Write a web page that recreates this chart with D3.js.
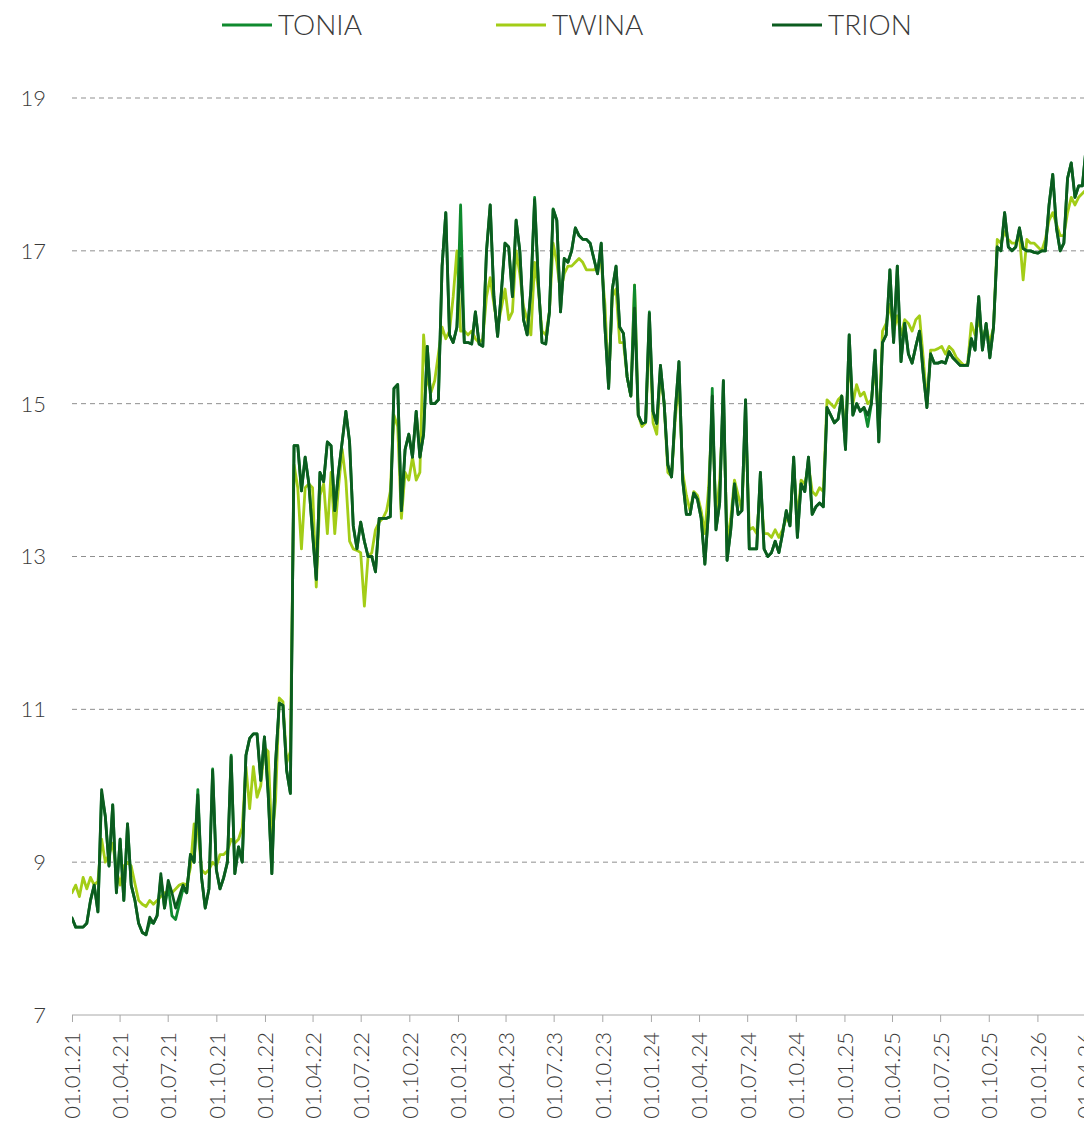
<!DOCTYPE html>
<html>
<head>
<meta charset="utf-8">
<script src="https://cdn.jsdelivr.net/npm/d3@7"></script>
<style>
  body { margin: 0; background: #fff; }
  svg text { font-family: "Lato Light", Lato, "Open Sans", sans-serif; font-weight: 300; fill: #3a3a3a; }
</style>
</head>
<body>
<svg id="chart" width="1084" height="1122"></svg>
<script>
// Weekly observations starting 01.01.2021
const startDate = "2021-01-01";
const stepDays = 7;

const seriesNames = ["TONIA", "TWINA", "TRION"];

const tonia = [
  8.27, 8.15, 8.15, 8.15, 8.2, 8.5, 8.7, 8.35, 9.9, 9.6, 8.95, 9.75, 8.6,
  9.3, 8.5, 9.5, 8.7, 8.5, 8.2, 8.08, 8.05, 8.22, 8.2, 8.3, 8.8, 8.4,
  8.7, 8.3, 8.25, 8.45, 8.65, 8.6, 9.1, 9.0, 9.95, 8.8, 8.4, 8.65, 10.22,
  8.9, 8.65, 8.8, 9.0, 10.4, 8.85, 9.2, 9.0, 10.4, 10.62, 10.68, 10.68, 10.07,
  10.64, 9.9, 8.85, 10.3, 11.08, 11.05, 10.2, 9.9, 14.45, 14.45, 13.86, 14.3, 13.95,
  13.3, 12.7, 14.1, 13.98, 14.5, 14.45, 13.6, 14.1, 14.5, 14.9, 14.5, 13.4, 13.1,
  13.45, 13.2, 13.0, 13.0, 12.8, 13.5, 13.5, 13.5, 13.52, 15.2, 15.25, 13.6, 14.4,
  14.6, 14.3, 14.9, 14.3, 14.6, 15.75, 15.0, 15.0, 15.05, 16.8, 17.5, 15.9, 15.8,
  16.0, 17.6, 15.8, 15.8, 15.78, 16.2, 15.78, 15.75, 17.0, 17.6, 16.4, 15.88, 16.45,
  17.1, 17.05, 16.4, 17.4, 17.0, 16.1, 15.9, 16.5, 17.7, 16.6, 15.8, 15.78, 16.2,
  17.55, 17.4, 16.2, 16.9, 16.85, 17.0, 17.3, 17.2, 17.15, 17.15, 17.1, 16.9, 16.7,
  17.1, 16.0, 15.2, 16.5, 16.8, 16.0, 15.92, 15.35, 15.1, 16.55, 14.85, 14.74, 14.76,
  16.2, 14.9, 14.74, 15.5, 15.0, 14.2, 14.04, 14.9, 15.55, 14.0, 13.55, 13.55, 13.83,
  13.75, 13.5, 12.9, 13.6, 15.2, 13.35, 13.7, 15.3, 12.95, 13.35, 13.95, 13.55, 13.6,
  15.05, 13.1, 13.1, 13.1, 14.1, 13.1, 13.0, 13.05, 13.2, 13.05, 13.3, 13.6, 13.4,
  14.3, 13.25, 13.95, 13.85, 14.3, 13.55, 13.65, 13.7, 13.65, 14.95, 14.85, 14.75, 14.8,
  15.1, 14.4, 15.9, 14.85, 15.0, 14.9, 14.95, 14.7, 15.0, 15.7, 14.5, 15.8, 15.9,
  16.75, 15.8, 16.8, 15.55, 16.05, 15.65, 15.53, 15.75, 15.95, 15.4, 14.95, 15.65, 15.53,
  15.53, 15.55, 15.53, 15.68, 15.6, 15.55, 15.5, 15.5, 15.5, 15.85, 15.7, 16.4, 15.7,
  16.05, 15.6, 16.0, 17.05, 17.0, 17.5, 17.05, 17.0, 17.05, 17.3, 17.03, 17.0, 17.0,
  16.98, 16.97, 17.0, 17.0, 17.6, 18.0, 17.3, 17.0, 17.1, 17.95, 18.15, 17.7, 17.85,
  17.85, 18.35
];

const twina = [
  8.6, 8.7, 8.55, 8.8, 8.65, 8.8, 8.7, 8.75, 9.3, 9.0, 9.1, 9.25, 8.9,
  8.7, 8.95, 9.0, 8.95, 8.72, 8.5, 8.45, 8.42, 8.5, 8.45, 8.5, 8.55, 8.6,
  8.6, 8.6, 8.65, 8.7, 8.72, 8.7, 8.93, 9.5, 9.45, 8.9, 8.85, 8.9, 9.0,
  8.95, 9.1, 9.1, 9.15, 9.3, 9.25, 9.3, 9.45, 10.25, 9.7, 10.25, 9.85, 10.0,
  10.5, 10.45, 9.3, 9.8, 11.15, 11.1, 10.3, 10.45, 14.2, 13.9, 13.1, 13.9, 13.95,
  13.9, 12.6, 13.8, 13.95, 13.3, 14.1, 13.3, 13.9, 14.4, 14.0, 13.2, 13.1, 13.08,
  13.05, 12.35, 13.0, 13.05, 13.35, 13.45, 13.5, 13.6, 13.85, 14.85, 14.7, 13.5, 14.1,
  14.0, 14.3, 14.0, 14.1, 15.9, 15.3, 15.15, 15.3, 15.65, 16.0, 15.85, 15.95, 16.4,
  17.0, 15.95, 15.95, 15.9, 15.95, 15.85, 15.8, 15.85, 16.4, 16.65, 16.3, 16.0, 16.25,
  16.5, 16.1, 16.2, 17.0, 16.7, 16.27, 16.1, 15.9, 16.85, 16.5, 15.95, 15.9, 16.2,
  17.1, 16.85, 16.45, 16.7, 16.8, 16.8, 16.85, 16.9, 16.85, 16.75, 16.75, 16.75, 16.8,
  16.85, 16.3, 15.25, 16.4, 16.5, 15.8, 15.8, 15.35, 15.1, 16.55, 14.85, 14.7, 14.75,
  16.0, 14.75, 14.6, 15.4, 15.0, 14.1, 14.05, 14.8, 15.3, 14.1, 13.8, 13.6, 13.85,
  13.8, 13.6, 13.3, 13.9, 14.9, 13.5, 14.0, 15.0, 13.2, 13.5, 14.0, 13.8, 13.6,
  14.8, 13.35, 13.38, 13.3, 13.9, 13.3, 13.3, 13.25, 13.35, 13.25, 13.35, 13.5, 13.45,
  14.2, 13.5, 14.0, 13.95, 14.2, 13.85, 13.8, 13.9, 13.85, 15.05, 15.0, 14.95, 15.05,
  15.1, 14.6, 15.6, 15.0, 15.25, 15.1, 15.15, 15.0, 15.05, 15.5, 14.7, 15.95, 16.05,
  16.3, 15.95, 16.15, 15.9, 16.1, 16.05, 15.95, 16.1, 16.15, 15.6, 15.0, 15.7, 15.7,
  15.72, 15.75, 15.65, 15.75, 15.7, 15.6, 15.55, 15.5, 15.52, 16.05, 15.9, 16.1, 15.85,
  16.0, 15.8, 16.0, 17.15, 17.1, 17.25, 17.15, 17.1, 17.1, 17.2, 16.62, 17.15, 17.1,
  17.1, 17.05, 17.0, 17.15, 17.4, 17.5, 17.35, 17.2, 17.2, 17.5, 17.7, 17.6, 17.7,
  17.75, 17.8
];

const trion = [
  8.27, 8.15, 8.15, 8.15, 8.2, 8.5, 8.7, 8.35, 9.95, 9.6, 8.95, 9.75, 8.6,
  9.3, 8.5, 9.5, 8.7, 8.5, 8.2, 8.08, 8.05, 8.28, 8.2, 8.3, 8.85, 8.4,
  8.76, 8.6, 8.4, 8.55, 8.7, 8.6, 9.1, 9.0, 9.88, 8.8, 8.4, 8.65, 10.2,
  8.9, 8.65, 8.8, 9.0, 10.38, 8.85, 9.2, 9.0, 10.4, 10.62, 10.68, 10.68, 10.07,
  10.64, 9.9, 8.85, 10.3, 11.08, 11.05, 10.2, 9.9, 14.45, 14.45, 13.86, 14.3, 13.95,
  13.3, 12.7, 14.1, 13.98, 14.5, 14.45, 13.6, 14.1, 14.5, 14.9, 14.5, 13.4, 13.1,
  13.45, 13.2, 13.0, 13.0, 12.8, 13.5, 13.5, 13.5, 13.52, 15.2, 15.25, 13.6, 14.4,
  14.6, 14.3, 14.9, 14.3, 14.6, 15.75, 15.0, 15.0, 15.05, 16.8, 17.5, 15.9, 15.8,
  16.0, 16.9, 15.8, 15.8, 15.78, 16.2, 15.78, 15.75, 17.0, 17.6, 16.4, 15.88, 16.45,
  17.1, 17.05, 16.4, 17.4, 17.0, 16.1, 15.9, 16.5, 17.67, 16.6, 15.8, 15.78, 16.2,
  17.54, 17.4, 16.2, 16.9, 16.85, 17.0, 17.3, 17.2, 17.15, 17.15, 17.1, 16.9, 16.7,
  17.1, 16.0, 15.2, 16.5, 16.8, 16.0, 15.92, 15.35, 15.1, 16.25, 14.85, 14.74, 14.76,
  16.18, 14.9, 14.74, 15.5, 15.0, 14.2, 14.04, 14.9, 15.55, 14.0, 13.55, 13.55, 13.83,
  13.75, 13.5, 12.9, 13.6, 15.1, 13.35, 13.7, 15.3, 12.95, 13.35, 13.95, 13.55, 13.6,
  15.05, 13.1, 13.1, 13.1, 14.1, 13.1, 13.0, 13.05, 13.2, 13.05, 13.3, 13.6, 13.4,
  14.3, 13.25, 13.95, 13.85, 14.3, 13.55, 13.65, 13.7, 13.65, 14.95, 14.85, 14.75, 14.8,
  15.1, 14.4, 15.9, 14.85, 15.0, 14.9, 14.95, 14.85, 15.0, 15.7, 14.5, 15.8, 15.9,
  16.75, 15.8, 16.8, 15.55, 16.05, 15.65, 15.53, 15.75, 15.95, 15.4, 14.95, 15.65, 15.53,
  15.53, 15.55, 15.53, 15.68, 15.6, 15.55, 15.5, 15.5, 15.5, 15.85, 15.7, 16.4, 15.7,
  16.05, 15.6, 16.0, 17.05, 17.0, 17.5, 17.05, 17.0, 17.05, 17.3, 17.03, 17.0, 17.0,
  16.98, 16.97, 17.0, 17.0, 17.6, 18.0, 17.3, 17.0, 17.1, 17.95, 18.15, 17.7, 17.85,
  17.85, 18.35
];

const yTicks = [7, 9, 11, 13, 15, 17, 19];
const xTickLabels = [
  "01.01.21", "01.04.21", "01.07.21", "01.10.21",
  "01.01.22", "01.04.22", "01.07.22", "01.10.22",
  "01.01.23", "01.04.23", "01.07.23", "01.10.23",
  "01.01.24", "01.04.24", "01.07.24", "01.10.24",
  "01.01.25", "01.04.25", "01.07.25", "01.10.25",
  "01.01.26", "01.04.26"
];

// ---- layout ----
const W = 1084, H = 1122;
const plot = { left: 72, right: 1085, top: 98, bottom: 1015 };
const colors = { TONIA: "#0f8a2e", TWINA: "#a3cd17", TRION: "#0b5c1f" };

const svg = d3.select("#chart");
const parseTick = d3.timeParse("%d.%m.%y");
const start = d3.timeParse("%Y-%m-%d")(startDate);

const x = d3.scaleTime()
  .domain([parseTick(xTickLabels[0]), parseTick(xTickLabels[xTickLabels.length - 1])])
  .range([plot.left, plot.right]);
const y = d3.scaleLinear().domain([7, 19]).range([plot.bottom, plot.top]);

// gridlines
svg.append("g")
  .selectAll("line")
  .data(yTicks.filter(v => v > 7))
  .join("line")
  .attr("x1", plot.left).attr("x2", W)
  .attr("y1", d => y(d)).attr("y2", d => y(d))
  .attr("stroke", "#8f8f8f")
  .attr("stroke-width", 1)
  .attr("stroke-dasharray", "5,4");

// y labels
svg.append("g")
  .selectAll("text")
  .data(yTicks)
  .join("text")
  .attr("x", 46)
  .attr("y", d => y(d))
  .attr("dy", "0.36em")
  .attr("text-anchor", "end")
  .style("font-size", "22px")
  .text(d => d);

// x axis
const xAxis = d3.axisBottom(x)
  .tickValues(xTickLabels.map(parseTick))
  .tickFormat(d3.timeFormat("%d.%m.%y"))
  .tickSize(7)
  .tickSizeOuter(0);

const gx = svg.append("g")
  .attr("transform", `translate(0,${plot.bottom})`)
  .call(xAxis);
gx.select(".domain").attr("stroke", "#a8a8a8").attr("d", `M${plot.left},0H${W}`);
gx.selectAll(".tick line").attr("stroke", "#a8a8a8");
gx.selectAll(".tick text")
  .attr("transform", "rotate(-90)")
  .attr("x", -17)
  .attr("y", 0)
  .attr("dy", "0.36em")
  .attr("text-anchor", "end")
  .style("font-size", "22px")
  .style("font-family", "'Lato Light', Lato, 'Open Sans', sans-serif")
  .style("font-weight", 300)
  .attr("fill", "#3a3a3a");

// series lines
svg.append("defs").append("clipPath").attr("id", "plotClip")
  .append("rect")
  .attr("x", plot.left).attr("y", 0)
  .attr("width", W - plot.left).attr("height", plot.bottom);

const dateAt = i => d3.timeDay.offset(start, i * stepDays);
const line = d3.line()
  .x((d, i) => x(dateAt(i)))
  .y(d => y(d))
  .curve(d3.curveLinear);

const seriesData = { TONIA: tonia, TWINA: twina, TRION: trion };
const drawOrder = ["TWINA", "TONIA", "TRION"];

svg.append("g")
  .attr("clip-path", "url(#plotClip)")
  .selectAll("path")
  .data(drawOrder)
  .join("path")
  .attr("d", k => line(seriesData[k]))
  .attr("fill", "none")
  .attr("stroke", k => colors[k])
  .attr("stroke-width", 2.8)
  .attr("stroke-linejoin", "round")
  .attr("stroke-linecap", "round");

// legend
const legendX = [222, 496, 772];
const legend = svg.append("g")
  .selectAll("g")
  .data(seriesNames)
  .join("g")
  .attr("transform", (d, i) => `translate(${legendX[i]},25)`);
legend.append("line")
  .attr("x1", 0).attr("x2", 50)
  .attr("stroke", d => colors[d])
  .attr("stroke-width", 3);
legend.append("text")
  .attr("x", 56)
  .attr("dy", "0.36em")
  .style("font-size", "28px")
  .text(d => d);
</script>
</body>
</html>
